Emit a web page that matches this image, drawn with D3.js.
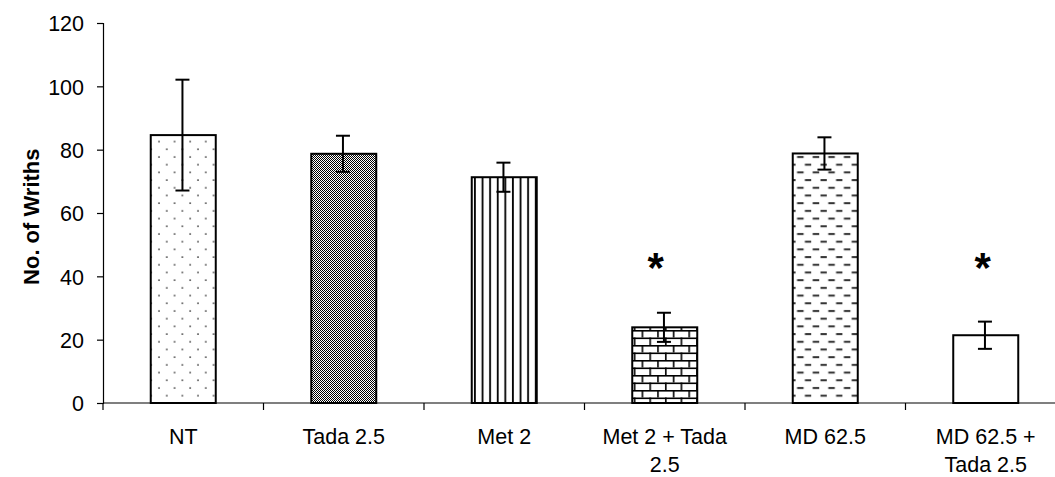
<!DOCTYPE html>
<html>
<head>
<meta charset="utf-8">
<script src="https://cdn.jsdelivr.net/npm/d3@7"></script>
<style>
  html, body { margin: 0; padding: 0; background: #fff; }
  svg { display: block; }
  text { font-family: "Liberation Sans", Arial, sans-serif; fill: #000; }
</style>
</head>
<body>
<script>
// ---- data ----
const categories = ["NT", "Tada 2.5", "Met 2", "Met 2 + Tada 2.5", "MD 62.5", "MD 62.5 + Tada 2.5"];
const labelLines = [["NT"], ["Tada 2.5"], ["Met 2"], ["Met 2 + Tada", "2.5"], ["MD 62.5"], ["MD 62.5 +", "Tada 2.5"]];
const means = [84.6, 78.7, 71.3, 23.9, 78.8, 21.4];
const errors = [17.5, 5.7, 4.6, 4.6, 5.1, 4.3];
const significant = [false, false, false, true, false, true];
const fills = ["dots", "checker", "vlines", "bricks", "dashes", "none"];
const yTicks = [0, 20, 40, 60, 80, 100, 120];
const yTitle = "No. of Wriths";

// ---- layout ----
const W = 1055, H = 477;
const mLeft = 103, mTop = 23, mBottom = 403, step = 160.5;

const svg = d3.select("body").append("svg").attr("width", W).attr("height", H);
const defs = svg.append("defs");

function pat(id, w, h) {
  const p = defs.append("pattern").attr("id", id).attr("patternUnits", "userSpaceOnUse")
    .attr("width", w).attr("height", h);
  p.append("rect").attr("width", w).attr("height", h).attr("fill", "#fff");
  return p;
}
// dots
{
  const p = pat("dots", 15.6, 15.4);
  p.append("circle").attr("cx", 3).attr("cy", 3).attr("r", 0.9).attr("fill", "#333");
  p.append("circle").attr("cx", 10.8).attr("cy", 10.7).attr("r", 0.9).attr("fill", "#333");
}
// checker
{
  const p = pat("checker", 2, 2);
  p.append("rect").attr("x", 0).attr("y", 0).attr("width", 1).attr("height", 1).attr("fill", "#000");
  p.append("rect").attr("x", 1).attr("y", 1).attr("width", 1).attr("height", 1).attr("fill", "#000");
}
// vertical lines
{
  const p = pat("vlines", 7.6, 10);
  p.append("rect").attr("x", 2.8).attr("y", 0).attr("width", 1.8).attr("height", 10).attr("fill", "#000");
}
// bricks
{
  const p = pat("bricks", 15.6, 15);
  const s = 1.6;
  p.append("rect").attr("x", 0).attr("y", 0).attr("width", 15.6).attr("height", s).attr("fill", "#000");
  p.append("rect").attr("x", 0).attr("y", 7.5).attr("width", 15.6).attr("height", s).attr("fill", "#000");
  p.append("rect").attr("x", 2).attr("y", 0).attr("width", s).attr("height", 7.5).attr("fill", "#000");
  p.append("rect").attr("x", 9.8).attr("y", 7.5).attr("width", s).attr("height", 7.5).attr("fill", "#000");
}
// dashes
{
  const p = pat("dashes", 15.6, 15.4);
  p.append("rect").attr("x", 1.5).attr("y", 2).attr("width", 6.5).attr("height", 2).attr("fill", "#333");
  p.append("rect").attr("x", 9.3).attr("y", 9.7).attr("width", 6.5).attr("height", 2).attr("fill", "#333");
}

const x = d3.scaleBand().domain(categories).range([mLeft, mLeft + step * categories.length]).padding(0);
const y = d3.scaleLinear().domain([0, 120]).range([mBottom, mTop]);
const barW = x.bandwidth() * 0.405;

// ---- y axis ----
const yAxis = svg.append("g").attr("transform", `translate(${mLeft},0)`)
  .call(d3.axisLeft(y).tickValues(yTicks).tickSize(6).tickPadding(13).tickFormat(d3.format("d")));
yAxis.select(".domain").attr("stroke", "#000").attr("stroke-width", 1.2);
yAxis.selectAll(".tick line").attr("stroke", "#000").attr("stroke-width", 1.2);
yAxis.selectAll(".tick text").attr("font-size", 21.5).attr("font-family", "Liberation Sans, Arial, sans-serif")
  .attr("fill", "#000").attr("dy", "0.36em");

// ---- bars ----
const data = categories.map((c, i) => ({ c, m: means[i], e: errors[i], f: fills[i], sig: significant[i], lines: labelLines[i] }));

svg.append("g").selectAll("rect").data(data).join("rect")
  .attr("x", d => x(d.c) + (x.bandwidth() - barW) / 2)
  .attr("y", d => y(d.m))
  .attr("width", barW)
  .attr("height", d => y(0) - y(d.m))
  .attr("fill", d => d.f === "none" ? "#fff" : `url(#${d.f})`)
  .attr("stroke", "#000").attr("stroke-width", 2);

// ---- x axis ----
const xAxis = svg.append("g");
xAxis.append("line").attr("x1", mLeft).attr("x2", W + 20).attr("y1", y(0)).attr("y2", y(0))
  .attr("stroke", "#000").attr("stroke-width", 1.2);
const bounds = categories.map(c => x(c)).concat([x.range()[1]]);
xAxis.selectAll("line.tk").data(bounds).join("line").attr("class", "tk")
  .attr("x1", d => d).attr("x2", d => d).attr("y1", y(0)).attr("y2", y(0) + 7)
  .attr("stroke", "#000").attr("stroke-width", 1.2);
const lbl = xAxis.selectAll("text.lbl").data(data).join("text").attr("class", "lbl")
  .attr("text-anchor", "middle").attr("font-size", 21.5)
  .attr("x", d => x(d.c) + x.bandwidth() / 2).attr("y", 443.5);
lbl.selectAll("tspan").data(d => d.lines.map(t => ({ t, cx: x(d.c) + x.bandwidth() / 2 }))).join("tspan")
  .attr("x", t => t.cx).attr("dy", (t, i) => i === 0 ? 0 : 28.5).text(t => t.t);

// ---- error bars ----
const eg = svg.append("g").attr("stroke", "#000").attr("stroke-width", 2);
data.forEach(d => {
  const cx = x(d.c) + x.bandwidth() / 2 - 0.8;
  eg.append("line").attr("x1", cx).attr("x2", cx).attr("y1", y(d.m + d.e)).attr("y2", y(d.m - d.e));
  eg.append("line").attr("x1", cx - 7).attr("x2", cx + 7).attr("y1", y(d.m + d.e)).attr("y2", y(d.m + d.e));
  eg.append("line").attr("x1", cx - 7).attr("x2", cx + 7).attr("y1", y(d.m - d.e)).attr("y2", y(d.m - d.e));
});

// ---- significance marks ----
const starOffset = [0, 0, 0, -9, 0, -3];
svg.append("g").selectAll("text").data(data.filter(d => d.sig)).join("text")
  .attr("x", d => x(d.c) + x.bandwidth() / 2 + starOffset[categories.indexOf(d.c)])
  .attr("y", y(44.5)).attr("dy", "0.47em")
  .attr("text-anchor", "middle").attr("font-size", 42).attr("font-weight", "bold")
  .attr("font-family", "Liberation Serif, serif")
  .text("*");

// ---- y title ----
svg.append("text").attr("transform", "translate(38.5,216.7) rotate(-90)")
  .attr("text-anchor", "middle").attr("font-size", 22).attr("font-weight", "bold").text(yTitle);
</script>
</body>
</html>
